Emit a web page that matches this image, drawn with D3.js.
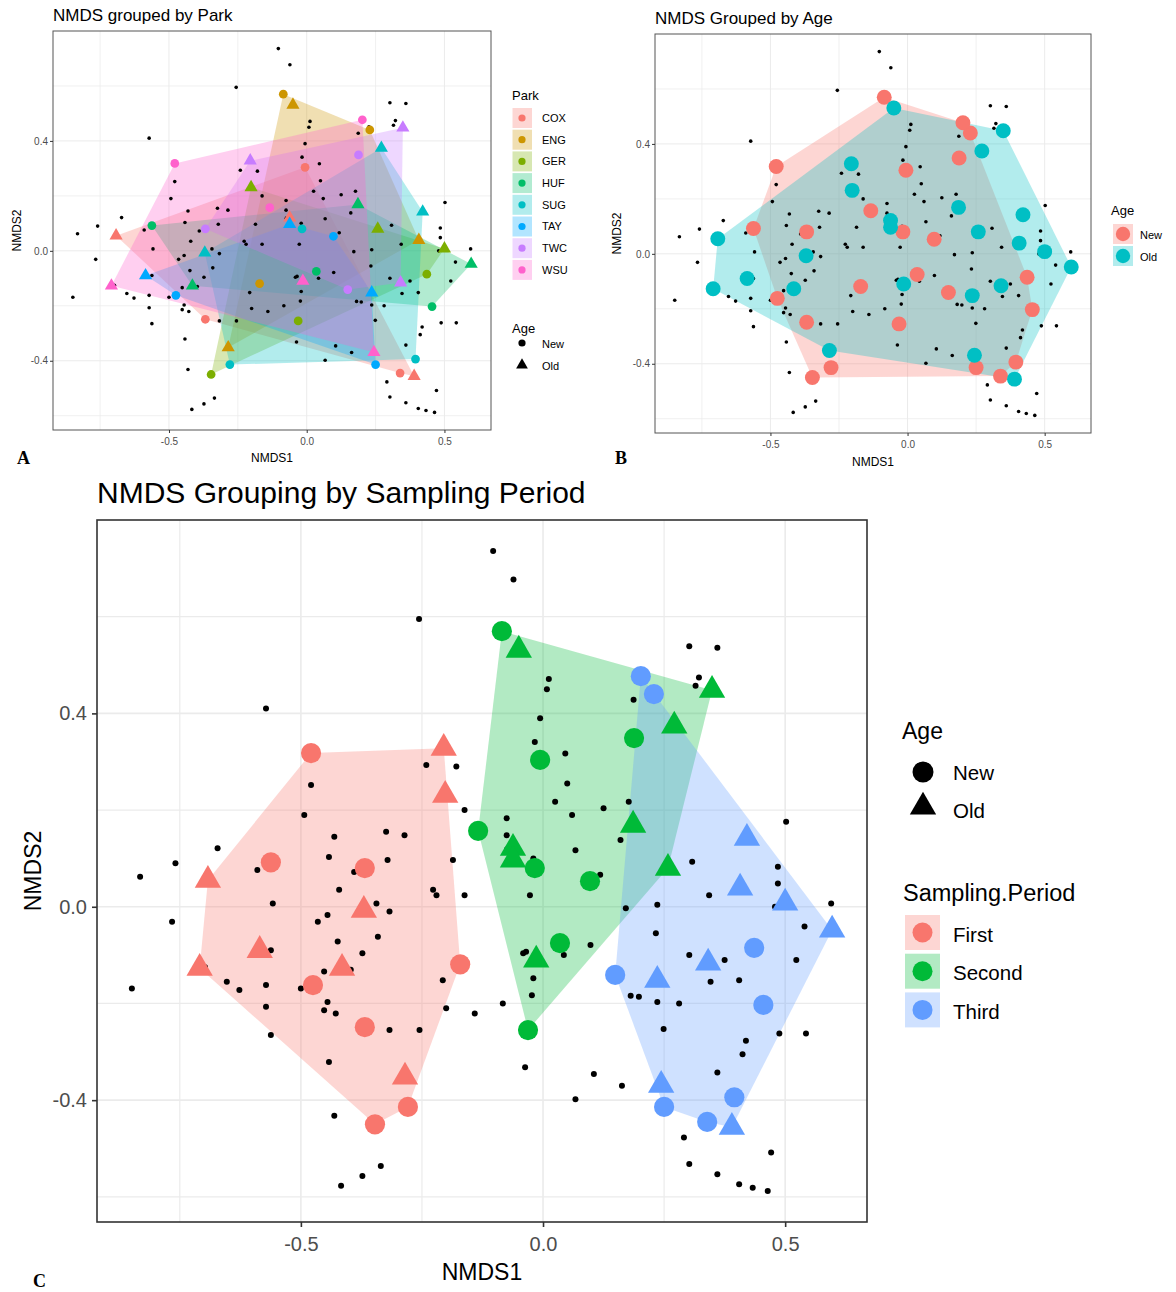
<!DOCTYPE html>
<html>
<head>
<meta charset="utf-8">
<script src="https://cdn.jsdelivr.net/npm/d3@7"></script>
<style>
  body { margin: 0; background: #fff; }
  text { font-family: "Liberation Sans", Arial, sans-serif; }
  .plab { font-family: "Liberation Serif", "Times New Roman", serif; font-weight: bold; }
</style>
</head>
<body>
<svg id="fig" width="1176" height="1292"></svg>
<script>
var parks = ["COX", "ENG", "GER", "HUF", "SUG", "TAY", "TWC", "WSU"];
var parkColors = ["#F8766D", "#CD9600", "#7CAE00", "#00BE67", "#00BFC4", "#00A9FF", "#C77CFF", "#FF61CC"];
var periods = ["First", "Second", "Third"];
var periodColors = ["#F8766D", "#00BA38", "#619CFF"];
var ages = ["New", "Old"];
var ageColors = ["#F8766D", "#00BFC4"];

// site scores, one row per park:
// First-New, First-Old, Second-New, Second-Old, Third-New, Third-Old
var siteX = [
  [-0.368, -0.692, -0.006, -0.062, 0.339, 0.390],
  [-0.171, -0.285, -0.085, -0.050, 0.229, 0.407],
  [-0.347, -0.202, -0.031, 0.258, 0.436, 0.500],
  [-0.562, -0.415, 0.035, 0.186, 0.455, 0.597],
  [-0.279, -0.370, -0.017, 0.271, 0.395, 0.421],
  [-0.475, -0.585, 0.097, -0.062, 0.250, 0.236],
  [-0.368, -0.205, 0.188, 0.349, 0.149, 0.341],
  [-0.479, -0.709, -0.134, -0.014, 0.202, 0.244]
];
var siteY = [
  [-0.249, 0.055, 0.304, 0.121, -0.445, -0.456],
  [-0.119, -0.352, 0.570, 0.531, 0.440, 0.039],
  [-0.450, 0.231, -0.255, 0.080, -0.085, 0.008],
  [0.092, -0.127, -0.075, 0.169, -0.203, -0.048],
  [-0.414, -0.007, 0.080, 0.374, -0.394, 0.142],
  [-0.162, -0.090, 0.053, 0.097, -0.414, -0.152],
  [0.080, 0.328, 0.349, 0.448, -0.141, -0.116],
  [0.318, -0.127, 0.157, -0.110, 0.477, -0.369]
];

// species scores (black dots)
var speciesX = [-0.256, -0.572, -0.241, -0.179, -0.479, -0.162, -0.493, -0.431, -0.324, -0.286,
  -0.672, -0.759, -0.442, -0.321, -0.186, -0.590, -0.390, -0.832, -0.421, -0.227,
  -0.220, -0.162, -0.558, -0.344, -0.317, -0.766, -0.465, -0.445, -0.341, -0.424,
  -0.562, -0.373, -0.452, -0.397, -0.698, -0.849, -0.653, -0.627, -0.572, -0.500,
  -0.207, -0.445, -0.452, -0.428, -0.572, -0.200, -0.141, -0.562, -0.317, -0.255,
  -0.442, -0.431, -0.335, -0.373, -0.417, -0.103, -0.061, 0.302, 0.360, 0.322,
  0.315, 0.012, 0.008, 0.187, -0.006, -0.017, 0.046, 0.050, 0.025, 0.177,
  0.125, 0.060, 0.502, -0.075, -0.075, 0.160, 0.067, 0.308, 0.485, -0.020,
  0.118, 0.485, -0.027, 0.343, 0.171, 0.236, 0.479, 0.595, 0.540, 0.233,
  0.098, -0.041, -0.035, 0.043, 0.302, 0.375, 0.523, -0.020, 0.346, 0.405,
  -0.023, -0.083, 0.181, 0.198, 0.236, 0.281, 0.249, 0.488, 0.543, 0.419,
  0.412, -0.037, 0.105, 0.163, 0.067, 0.360, 0.291, 0.471, 0.302, 0.360,
  0.405, 0.433, 0.464, 0.226, -0.074];
var speciesY = [0.595, 0.410, 0.293, 0.290, 0.252, 0.200, 0.190, 0.145, 0.155, 0.148,
  0.121, 0.090, 0.103, 0.097, 0.097, 0.076, 0.072, 0.062, 0.035, 0.035,
  0.024, 0.024, 0.007, 0.007, -0.010, -0.031, -0.031, -0.017, -0.062, -0.072,
  -0.090, -0.096, -0.134, -0.130, -0.125, -0.169, -0.155, -0.172, -0.162, -0.169,
  -0.152, -0.197, -0.214, -0.221, -0.207, -0.210, -0.221, -0.265, -0.255, -0.255,
  -0.321, -0.432, -0.536, -0.557, -0.577, 0.736, 0.677, 0.539, 0.536, 0.474,
  0.457, 0.471, 0.450, 0.428, 0.390, 0.341, 0.317, 0.255, 0.217, 0.217,
  0.204, 0.190, 0.176, 0.183, 0.148, 0.138, 0.117, 0.093, 0.083, 0.100,
  0.066, 0.048, 0.024, 0.024, -0.003, 0.004, 0.000, 0.007, -0.041, -0.055,
  -0.079, -0.096, -0.093, -0.100, -0.100, -0.110, -0.110, -0.148, -0.155, -0.152,
  -0.183, -0.200, -0.184, -0.186, -0.197, -0.200, -0.253, -0.262, -0.262, -0.277,
  -0.305, -0.332, -0.346, -0.370, -0.398, -0.343, -0.477, -0.508, -0.532, -0.553,
  -0.574, -0.581, -0.588, 0.451, 0.119];

var xDomain = [-0.921, 0.669];
var yDomain = [-0.652, 0.800];
var xTicks = [-0.5, 0, 0.5];
var xMinor = [-0.75, -0.25, 0.25];
var yTicks = [-0.4, 0, 0.4];
var yMinor = [-0.6, -0.2, 0.2, 0.6];

var samples = [];
parks.forEach(function(p, i) {
  siteX[i].forEach(function(v, j) {
    samples.push({
      park: p,
      period: periods[Math.floor(j / 2)],
      age: ages[j % 2],
      x: v,
      y: siteY[i][j]
    });
  });
});
var species = speciesX.map(function(v, i) {
  return { x: v, y: speciesY[i] };
});

var svg = d3.select("#fig");

function fmt(d) {
  return d.toFixed(1);
}

function symbolPath(type, size) {
  return d3.symbol().type(type).size(size)();
}

function drawPanel(o) {
  var x = d3.scaleLinear().domain(xDomain).range([o.left, o.right]);
  var y = d3.scaleLinear().domain(yDomain).range([o.bottom, o.top]);
  var g = svg.append("g");

  // grid
  g.selectAll(".gx").data(xMinor.concat(xTicks)).enter().append("line")
    .attr("x1", function(d) { return x(d); })
    .attr("x2", function(d) { return x(d); })
    .attr("y1", o.top).attr("y2", o.bottom)
    .attr("stroke", "#ebebeb")
    .attr("stroke-width", function(d) { return xTicks.indexOf(d) >= 0 ? o.grid : o.grid * 0.75; });
  g.selectAll(".gy").data(yMinor.concat(yTicks)).enter().append("line")
    .attr("y1", function(d) { return y(d); })
    .attr("y2", function(d) { return y(d); })
    .attr("x1", o.left).attr("x2", o.right)
    .attr("stroke", "#ebebeb")
    .attr("stroke-width", function(d) { return yTicks.indexOf(d) >= 0 ? o.grid : o.grid * 0.75; });

  // hulls
  o.groups.forEach(function(name, k) {
    var pts = samples.filter(function(d) { return d[o.key] === name; })
      .map(function(d) { return [x(d.x), y(d.y)]; });
    var hull = d3.polygonHull(pts);
    g.append("path")
      .attr("d", "M" + hull.join("L") + "Z")
      .attr("fill", o.colors[k])
      .attr("fill-opacity", 0.3);
  });

  // species
  g.selectAll(".sp").data(species).enter().append("circle")
    .attr("cx", function(d) { return x(d.x); })
    .attr("cy", function(d) { return y(d.y); })
    .attr("r", o.dotR)
    .attr("fill", "#000");

  // sites
  g.selectAll(".site").data(samples).enter().append("path")
    .attr("transform", function(d) { return "translate(" + x(d.x) + "," + y(d.y) + ")"; })
    .attr("d", function(d) {
      if (o.shapes && d.age === "Old") return symbolPath(d3.symbolTriangle, o.triSize);
      return symbolPath(d3.symbolCircle, o.circSize);
    })
    .attr("fill", function(d) { return o.colors[o.groups.indexOf(d[o.key])]; });

  // border
  g.append("rect")
    .attr("x", o.left).attr("y", o.top)
    .attr("width", o.right - o.left).attr("height", o.bottom - o.top)
    .attr("fill", "none")
    .attr("stroke", o.borderColor)
    .attr("stroke-width", o.borderW);

  // axes
  var xAxis = d3.axisBottom(x).tickValues(xTicks).tickFormat(fmt).tickSizeOuter(0).tickSize(o.tick).tickPadding(o.padX);
  var yAxis = d3.axisLeft(y).tickValues(yTicks).tickFormat(fmt).tickSizeOuter(0).tickSize(o.tick).tickPadding(o.padY);
  var gx = g.append("g").attr("transform", "translate(0," + o.bottom + ")").call(xAxis);
  var gy = g.append("g").attr("transform", "translate(" + o.left + ",0)").call(yAxis);
  [gx, gy].forEach(function(a) {
    a.select(".domain").remove();
    a.selectAll("line").attr("stroke", "#333").attr("stroke-width", o.borderW);
    a.selectAll("text").attr("fill", "#4d4d4d").style("font-size", o.tickFont + "px")
      .style("font-family", "'Liberation Sans', Arial, sans-serif");
  });

  g.append("text")
    .attr("x", (o.left + o.right) / 2)
    .attr("y", o.xTitleY)
    .attr("text-anchor", "middle")
    .style("font-size", o.axisFont + "px")
    .text("NMDS1");
  g.append("text")
    .attr("transform", "translate(" + o.yTitleX + "," + ((o.top + o.bottom) / 2) + ")rotate(-90)")
    .attr("text-anchor", "middle")
    .style("font-size", o.axisFont + "px")
    .text("NMDS2");

  g.append("text")
    .attr("x", o.left)
    .attr("y", o.titleY)
    .style("font-size", o.titleFont + "px")
    .text(o.title);
}

// A. grouped by park
drawPanel({
  left: 53, right: 491, top: 31, bottom: 430,
  key: "park", groups: parks, colors: parkColors, shapes: true,
  circSize: 60, triSize: 75, dotR: 1.8, grid: 1, borderW: 1, borderColor: "#555",
  tick: 3, padX: 5, padY: 2, tickFont: 10, axisFont: 12, xTitleY: 462, yTitleX: 21,
  title: "NMDS grouped by Park", titleY: 21, titleFont: 17
});

// B. grouped by age
drawPanel({
  left: 655, right: 1091, top: 34, bottom: 433,
  key: "age", groups: ages, colors: ageColors, shapes: false,
  circSize: 175, triSize: 175, dotR: 1.8, grid: 1, borderW: 1, borderColor: "#555",
  tick: 3, padX: 5, padY: 2, tickFont: 10, axisFont: 12, xTitleY: 466, yTitleX: 621,
  title: "NMDS Grouped by Age", titleY: 24, titleFont: 17
});

// C. grouped by sampling period
drawPanel({
  left: 97, right: 867, top: 520, bottom: 1222,
  key: "period", groups: periods, colors: periodColors, shapes: true,
  circSize: 320, triSize: 300, dotR: 3, grid: 1.6, borderW: 1.6, borderColor: "#333",
  tick: 5, padX: 10, padY: 5, tickFont: 20, axisFont: 23, xTitleY: 1280, yTitleX: 41,
  title: "NMDS Grouping by Sampling Period", titleY: 503, titleFont: 30
});

// legends
function legendTitle(xp, yp, size, txt) {
  svg.append("text").attr("x", xp).attr("y", yp).style("font-size", size + "px").text(txt);
}
function legendLabel(xp, yp, size, txt) {
  svg.append("text").attr("x", xp).attr("y", yp).attr("dy", "0.35em")
    .style("font-size", size + "px").text(txt);
}

// A legend
legendTitle(512, 100, 13, "Park");
parks.forEach(function(p, k) {
  var cy = 118 + k * 21.7;
  svg.append("rect").attr("x", 512.5).attr("y", cy - 10).attr("width", 19.5).attr("height", 20)
    .attr("fill", parkColors[k]).attr("fill-opacity", 0.3);
  svg.append("circle").attr("cx", 522).attr("cy", cy).attr("r", 3.6).attr("fill", parkColors[k]);
  legendLabel(542, cy, 11, p);
});
legendTitle(512, 333, 13, "Age");
svg.append("circle").attr("cx", 522).attr("cy", 343).attr("r", 3.6).attr("fill", "#000");
svg.append("path").attr("transform", "translate(522,365)").attr("d", symbolPath(d3.symbolTriangle, 60));
legendLabel(542, 344, 11, "New");
legendLabel(542, 366, 11, "Old");

// B legend
legendTitle(1111, 215, 13, "Age");
ages.forEach(function(a, k) {
  var cy = 234 + k * 22;
  svg.append("rect").attr("x", 1113).attr("y", cy - 10).attr("width", 20).attr("height", 20)
    .attr("fill", ageColors[k]).attr("fill-opacity", 0.3);
  svg.append("circle").attr("cx", 1123).attr("cy", cy).attr("r", 7.2).attr("fill", ageColors[k]);
  legendLabel(1140, cy + 1, 11, a);
});

// C legend
legendTitle(902, 739, 23, "Age");
svg.append("circle").attr("cx", 923).attr("cy", 772).attr("r", 10.5).attr("fill", "#000");
svg.append("path").attr("transform", "translate(923,807)").attr("d", symbolPath(d3.symbolTriangle, 300));
legendLabel(953, 773, 20.5, "New");
legendLabel(953, 811, 20.5, "Old");

legendTitle(903, 901, 23.5, "Sampling.Period");
periods.forEach(function(p, k) {
  var cy = 932.5 + k * 38.7;
  svg.append("rect").attr("x", 905).attr("y", cy - 17.5).attr("width", 35).attr("height", 35)
    .attr("fill", periodColors[k]).attr("fill-opacity", 0.3);
  svg.append("circle").attr("cx", 922.5).attr("cy", cy).attr("r", 10).attr("fill", periodColors[k]);
  legendLabel(953, cy + 2, 20.5, p);
});

// panel letters
svg.append("text").attr("class", "plab").attr("x", 17).attr("y", 464).style("font-size", "18px").text("A");
svg.append("text").attr("class", "plab").attr("x", 615).attr("y", 464).style("font-size", "18px").text("B");
svg.append("text").attr("class", "plab").attr("x", 33).attr("y", 1287).style("font-size", "18px").text("C");
</script>
</body>
</html>
